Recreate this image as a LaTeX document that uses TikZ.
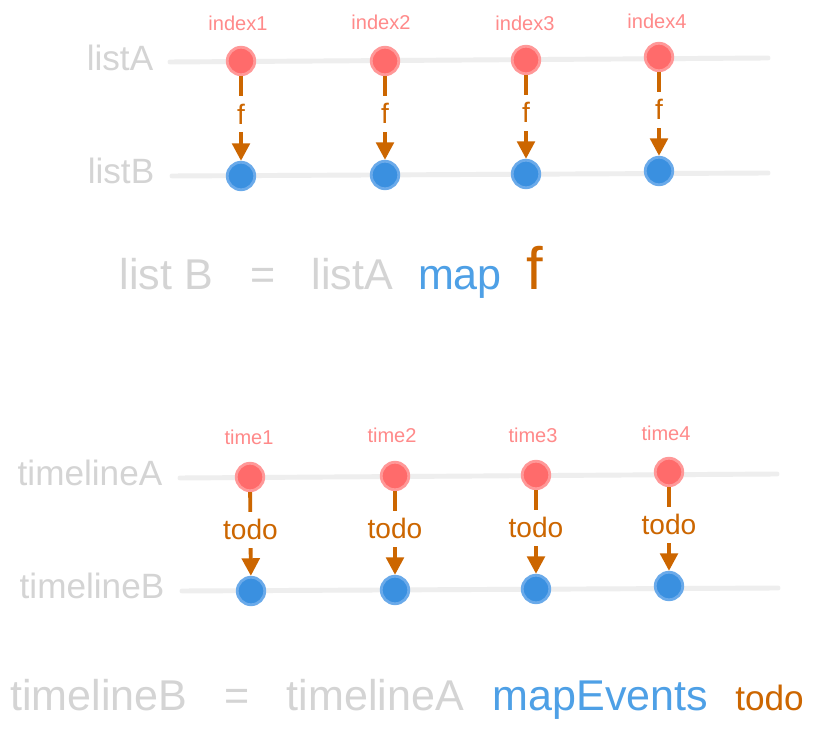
\documentclass[tikz,border=0pt]{standalone}
\usepackage{fontspec}
\setmainfont{Liberation Sans}
\usepackage{xcolor}
\usetikzlibrary{arrows.meta}
\definecolor{MRLine}{HTML}{EEEEEE}
\definecolor{MRGrey}{HTML}{D4D4D4}
\definecolor{MRPink}{HTML}{FF8A8A}
\definecolor{MRRed}{HTML}{FF6B6B}
\definecolor{MRRedEdge}{HTML}{FF9898}
\definecolor{MRBlue}{HTML}{3A90E0}
\definecolor{MRBlueEdge}{HTML}{6AAAEA}
\definecolor{MRSky}{HTML}{4EA0E6}
\definecolor{MROrange}{HTML}{CC6600}
\newcommand{\fsz}[1]{\fontsize{#1}{#1}\selectfont}

\begin{document}
\begin{tikzpicture}[x=1cm,y=1cm,
  track/.style={MRLine,line width=2.8pt,line cap=round},
  srcdot/.style={circle,fill=MRRed,draw=MRRedEdge,line width=1.6pt,minimum size=0.55cm,inner sep=0pt},
  dstdot/.style={circle,fill=MRBlue,draw=MRBlueEdge,line width=1.6pt,minimum size=0.55cm,inner sep=0pt},
  maparrow/.style={MROrange,line width=2.2pt,-{Triangle[width=10pt,length=10pt]}},
  fnlabel/.style={fill=white,text=MROrange,inner xsep=1pt,inner ysep=4.5pt,font=\fsz{16}},
  tag/.style={text=MRPink,font=\fsz{11.4}},
  streamname/.style={text=MRGrey,font=\fsz{20}},
  eqword/.style={anchor=base,text=MRGrey,font=\fsz{24.5}}]
\path[use as bounding box] (0,0) rectangle (16.28,14.58);
\fill[white] (0,0) rectangle (16.28,14.58);
\coordinate (la0) at (3.40,13.34);
\coordinate (la1) at (15.36,13.42);
\coordinate (lb0) at (3.44,11.06);
\coordinate (lb1) at (15.36,11.12);
\draw[track] (la0) -- (la1);
\draw[track] (lb0) -- (lb1);
\node[streamname] (listA) at (2.40,13.42) {listA};
\node[streamname] (listB) at (2.42,11.16) {listB};
\node[srcdot] (a1) at (4.82,13.36) {};
\node[srcdot] (a2) at (7.70,13.36) {};
\node[srcdot] (a3) at (10.52,13.38) {};
\node[srcdot] (a4) at (13.18,13.44) {};
\node[dstdot] (b1) at (4.82,11.06) {};
\node[dstdot] (b2) at (7.70,11.08) {};
\node[dstdot] (b3) at (10.52,11.10) {};
\node[dstdot] (b4) at (13.18,11.16) {};
\node[tag] (index1) at (4.76,14.12) {index1};
\node[tag] (index2) at (7.62,14.14) {index2};
\node[tag] (index3) at (10.50,14.12) {index3};
\node[tag] (index4) at (13.14,14.16) {index4};
\draw[maparrow] (a1) -- node[fnlabel,pos=.45] {f} (b1);
\draw[maparrow] (a2) -- node[fnlabel,pos=.45] {f} (b2);
\draw[maparrow] (a3) -- node[fnlabel,pos=.45] {f} (b3);
\draw[maparrow] (a4) -- node[fnlabel,pos=.45] {f} (b4);
\node[eqword] (eqB) at (3.33,8.78) {list B};
\node[eqword] (eqIs) at (5.26,8.78) {=};
\node[eqword] (eqA) at (7.05,8.78) {listA};
\node[eqword,text=MRSky] (eqMap) at (9.20,8.78) {map};
\node[eqword,text=MROrange,font=\fsz{34}] (eqF) at (10.70,8.78) {f};
\coordinate (ta0) at (3.60,5.02);
\coordinate (ta1) at (15.54,5.10);
\coordinate (tb0) at (3.64,2.76);
\coordinate (tb1) at (15.56,2.82);
\draw[track] (ta0) -- (ta1);
\draw[track] (tb0) -- (tb1);
\node[streamname] (timelineA) at (1.80,5.12) {timelineA};
\node[streamname] (timelineB) at (1.84,2.86) {timelineB};
\node[srcdot] (s1) at (5.00,5.04) {};
\node[srcdot] (s2) at (7.90,5.06) {};
\node[srcdot] (s3) at (10.72,5.08) {};
\node[srcdot] (s4) at (13.38,5.14) {};
\node[dstdot] (d1) at (5.02,2.76) {};
\node[dstdot] (d2) at (7.90,2.78) {};
\node[dstdot] (d3) at (10.72,2.80) {};
\node[dstdot] (d4) at (13.38,2.86) {};
\node[tag] (time1) at (4.98,5.84) {time1};
\node[tag] (time2) at (7.84,5.88) {time2};
\node[tag] (time3) at (10.66,5.88) {time3};
\node[tag] (time4) at (13.32,5.92) {time4};
\draw[maparrow] (s1) -- node[fnlabel,pos=.45] {todo} (d1);
\draw[maparrow] (s2) -- node[fnlabel,pos=.45] {todo} (d2);
\draw[maparrow] (s3) -- node[fnlabel,pos=.45] {todo} (d3);
\draw[maparrow] (s4) -- node[fnlabel,pos=.45] {todo} (d4);
\node[eqword] (evB) at (1.98,0.36) {timelineB};
\node[eqword] (evIs) at (4.74,0.36) {=};
\node[eqword] (evA) at (7.51,0.36) {timelineA};
\node[eqword,text=MRSky] (evMap) at (12.01,0.36) {mapEvents};
\node[eqword,text=MROrange,font=\fsz{20}] (evF) at (15.39,0.36) {todo};
\end{tikzpicture}
\end{document}
